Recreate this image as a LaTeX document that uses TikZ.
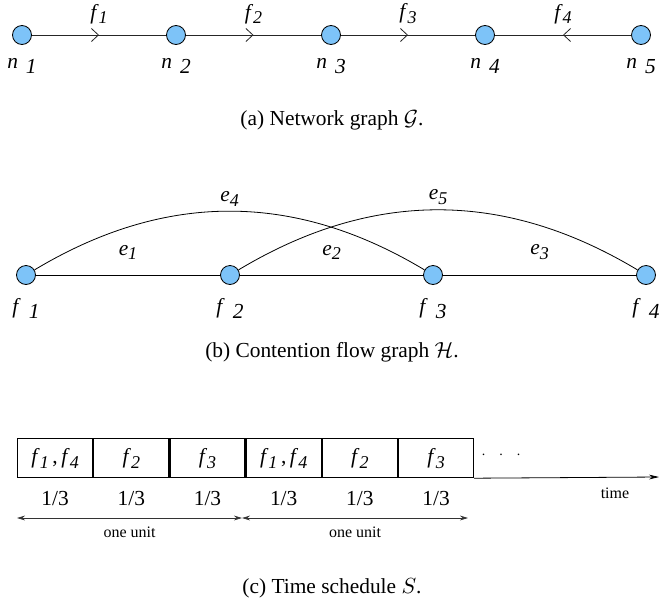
\documentclass[tikz,border=0pt]{standalone}
\usepackage{fontspec}
\setmainfont{Liberation Serif}
\usetikzlibrary{arrows.meta,positioning,decorations.markings}
\definecolor{vtxblue}{RGB}{125,195,248}
% italic letter with a lowered index, optional gap before the index
\newcommand{\lbl}[3][0pt]{\textit{#2}\hspace{#1}\raisebox{-0.55ex}{\textit{#3}}}
\newcommand{\slbl}[2]{\textit{#1}\raisebox{-0.5ex}{\small\textit{#2}}}

\begin{document}
\begin{tikzpicture}[x=0.5pt,y=-0.5pt, font=\rmfamily\fontsize{10.7}{13}\selectfont,
  vtx/.style={circle, draw=black, fill=vtxblue, minimum size=9.5pt, inner sep=0pt},
  flow/.style={draw=black!85, postaction={decorate},
    decoration={markings, mark=at position 0.5 with {\arrow{Straight Barb[length=3.5pt,width=6.5pt]}}}},
  slot/.style={draw, line width=0.6pt, minimum width=37.5pt, minimum height=19.5pt, inner sep=0pt},
  tick/.style={font=\rmfamily\footnotesize},
  unit/.style={{Stealth[length=4pt,width=2.4pt]}-{Stealth[length=4pt,width=2.4pt]}, draw=black!80}]
\useasboundingbox (0,0) rectangle (664,600);

% (a) network graph
\node[vtx, label={[label distance=3pt]below:{\lbl[4pt]{n}{1}}}] (n1) at (22,35) {};
\node[vtx, label={[label distance=3pt]below:{\lbl[4pt]{n}{2}}}] (n2) at (176,35) {};
\node[vtx, label={[label distance=3pt]below:{\lbl[4pt]{n}{3}}}] (n3) at (331,35) {};
\node[vtx, label={[label distance=3pt]below:{\lbl[4pt]{n}{4}}}] (n4) at (485,35) {};
\node[vtx, label={[label distance=3pt]below:{\lbl[4pt]{n}{5}}}] (n5) at (641,35) {};
\draw[flow] (n1) -- node[above=2pt] {\slbl{f}{1}} (n2);
\draw[flow] (n2) -- node[above=2pt] {\slbl{f}{2}} (n3);
\draw[flow] (n3) -- node[above=2pt] {\slbl{f}{3}} (n4);
\draw[flow] (n5) -- node[above=2pt] {\slbl{f}{4}} (n4);
\node (capa) at (332,120) {(a) Network graph $\mathcal{G}$.};

% (b) contention flow graph
\node[vtx, label={[label distance=3pt]below:{\lbl[4pt]{f}{1}}}] (c1) at (26,275) {};
\node[vtx, label={[label distance=3pt]below:{\lbl[4pt]{f}{2}}}] (c2) at (230,275) {};
\node[vtx, label={[label distance=3pt]below:{\lbl[4pt]{f}{3}}}] (c3) at (433,275) {};
\node[vtx, label={[label distance=3pt]below:{\lbl[4pt]{f}{4}}}] (c4) at (646,275) {};
\draw (c1) -- node[above=4pt] {\slbl{e}{1}} (c2);
\draw (c2) -- node[above=4pt] {\slbl{e}{2}} (c3);
\draw (c3) -- node[above=4pt] {\slbl{e}{3}} (c4);
\draw (c1) to[bend left=31] node[above=-1pt] {\slbl{e}{4}} (c3);
\draw (c2) to[bend left=31] node[above=-1pt] {\slbl{e}{5}} (c4);
\node (capb) at (332,352) {(b) Contention flow graph $\mathcal{H}$.};

% (c) time schedule
\node[slot, anchor=north west] (s1) at (17,438) {\slbl{f}{1}\,,\,\slbl{f}{4}};
\node[slot, right=0pt of s1] (s2) {\slbl{f}{2}};
\node[slot, right=0pt of s2] (s3) {\slbl{f}{3}};
\node[slot, right=0pt of s3] (s4) {\slbl{f}{1}\,,\,\slbl{f}{4}};
\node[slot, right=0pt of s4] (s5) {\slbl{f}{2}};
\node[slot, right=0pt of s5] (s6) {\slbl{f}{3}};
\foreach \i in {1,...,6}
  \node[below=3pt of s\i] (w\i) {1/3};
\node[font=\scriptsize] (dots) at (501,455) {.\hspace{7pt}.\hspace{7pt}.};
\coordinate (tend) at (659,477);
\draw[-{Stealth[length=5pt,width=2.4pt]}] (s6.south east) -- (tend);
\node[tick] (time) at (615,493) {time};
\coordinate (u0) at (17,518);
\coordinate (u1) at (242,518);
\coordinate (u2) at (468,518);
\draw[unit] (u0) -- node[tick, below=1pt] {one unit} (u1);
\draw[unit] (u1) -- node[tick, below=1pt] {one unit} (u2);
\node (capc) at (332,588) {(c) Time schedule $S$.};
\end{tikzpicture}
\end{document}
